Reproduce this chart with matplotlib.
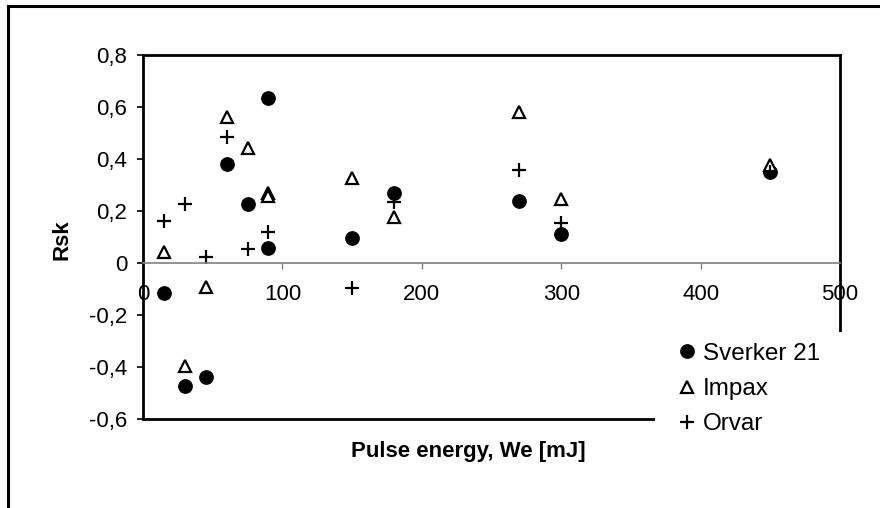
import matplotlib
matplotlib.use('Agg')
import matplotlib.pyplot as plt
from matplotlib.patches import Rectangle
from matplotlib.lines import Line2D

plt.rcParams['font.family'] = ['Liberation Sans', 'DejaVu Sans']

# data
sverker_x = [15, 30, 45, 60, 75, 90, 90, 150, 180, 270, 300, 450]
sverker_y = [-0.114, -0.472, -0.437, 0.381, 0.227, 0.633, 0.056, 0.097, 0.268, 0.240, 0.112, 0.351]
impax_x = [15, 30, 45, 60, 75, 90, 90, 150, 180, 270, 300, 450]
impax_y = [0.041, -0.396, -0.091, 0.563, 0.441, 0.270, 0.258, 0.326, 0.178, 0.582, 0.246, 0.377]
orvar_x = [15, 30, 45, 60, 75, 90, 150, 180, 270, 300, 450]
orvar_y = [0.163, 0.227, 0.022, 0.486, 0.053, 0.120, -0.097, 0.236, 0.358, 0.153, 0.350]

xticks = [0, 100, 200, 300, 400, 500]
yticks = [-0.6, -0.4, -0.2, 0, 0.2, 0.4, 0.6, 0.8]
ytick_labels = ['-0,6', '-0,4', '-0,2', '0', '0,2', '0,4', '0,6', '0,8']

W, H = 880, 508
fig = plt.figure(figsize=(W / 100, H / 100), dpi=100)
ax = fig.add_axes([143 / W, 1 - 419 / H, (840 - 143) / W, (419 - 55) / H])
ax.set_xlim(0, 500)
ax.set_ylim(-0.6, 0.8)

ax.plot(sverker_x, sverker_y, 'o', color='black', ms=9.6, ls='none', label='Sverker 21', clip_on=False)
ax.plot(impax_x, impax_y, '^', mfc='white', mec='black', mew=1.6, ms=9, ls='none', label='Impax', clip_on=False)
ax.plot(orvar_x, orvar_y, '+', color='black', mew=1.6, ms=10, ls='none', label='Orvar', clip_on=False)

# spines
ax.spines['bottom'].set_position(('data', 0))
ax.spines['bottom'].set_color('#808080')
ax.spines['bottom'].set_linewidth(1.2)
for s in ['left', 'top', 'right']:
    ax.spines[s].set_color('black')
    ax.spines[s].set_linewidth(2)
ax.plot([0, 500], [-0.6, -0.6], color='black', lw=2, clip_on=False, solid_capstyle='butt')

ax.set_xticks(xticks)
ax.set_xticklabels([str(t) for t in xticks])
ax.set_yticks(yticks)
ax.set_yticklabels(ytick_labels)
ax.tick_params(axis='x', direction='out', length=4.3, width=1, color='#808080', pad=11, labelsize=16)
ax.tick_params(axis='y', direction='out', length=4.3, width=1.2, color='black', pad=7, labelsize=16)

fig.text(62 / W, 1 - 240 / H, 'Rsk', rotation=90, fontsize=16, fontweight='bold', ha='center', va='center')
fig.text(468 / W, 1 - 451 / H, 'Pulse energy, We [mJ]', fontsize=16, fontweight='bold', ha='center', va='center')

# white legend area covering the lower right corner of the plot frame
fig.add_artist(Rectangle((655 / W, 1 - 442 / H), (870 - 655) / W, (442 - 332) / H,
                         transform=fig.transFigure, facecolor='white', edgecolor='none', zorder=3))
handles, labels = ax.get_legend_handles_labels()
leg = fig.legend(handles, labels, loc='center left', bbox_to_anchor=(663 / W, 1 - 389 / H),
                 frameon=False, borderpad=0, handlelength=1.0, handletextpad=0.15,
                 labelspacing=0.55, fontsize=17.5)
leg.set_zorder(5)

# outer chart border (top and left visible)
fig.add_artist(Line2D([8 / W, 8 / W], [0, 1 - 6 / H], transform=fig.transFigure, color='black', lw=2.2))
fig.add_artist(Line2D([8 / W, 1], [1 - 6 / H, 1 - 6 / H], transform=fig.transFigure, color='black', lw=2.2))

fig.savefig('out.png', dpi=100)
